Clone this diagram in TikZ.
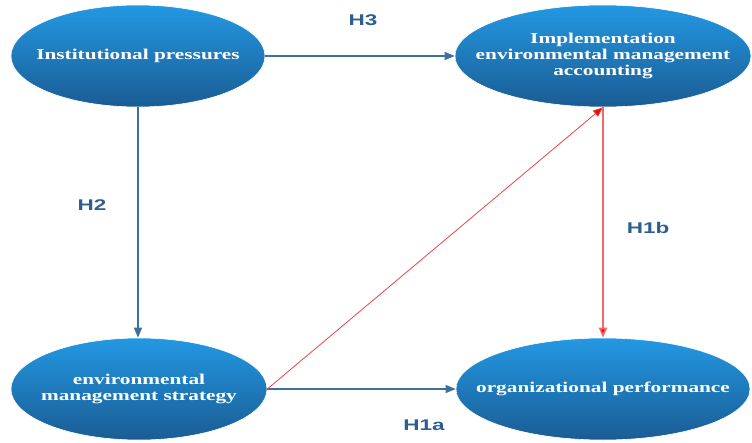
\documentclass[tikz,border=0pt]{standalone}
\usepackage{fontspec}
\setmainfont{Liberation Serif}
\newfontfamily\labelfont{Liberation Sans}
\usetikzlibrary{shapes.geometric,arrows.meta}
\definecolor{topblue}{HTML}{2398E2}
\definecolor{botblue}{HTML}{1A5C94}
\definecolor{arrowblue}{HTML}{3F6F9C}
\definecolor{labelblue}{HTML}{2C5F8D}
\definecolor{redline}{HTML}{E84545}
\tikzset{
  construct/.style={ellipse, inner sep=0pt, top color=topblue, bottom color=botblue,
    draw=white, line width=0.6pt, minimum height=102pt},
  constructtext/.style={inner sep=0pt, xscale=1.42, text=white, align=center,
    font=\fontsize{15}{16.3}\selectfont\bfseries},
  hyplabel/.style={text=labelblue, xscale=1.45, font=\labelfont\fontsize{15.5}{16}\selectfont\bfseries},
  bluearrow/.style={draw=arrowblue, line width=1.1pt, -{Triangle[length=10pt,width=8pt]}},
  redarrow/.style={draw=redline, -{Triangle[length=10pt,width=8pt,fill=red]}, color=redline},
}
\begin{document}
\begin{tikzpicture}[x=1pt,y=-1pt]
\useasboundingbox (0,0) rectangle (752,442);
\node[construct, minimum width=254pt] (ip) at (138,56) {};
\node[construct, minimum width=296pt] (iema) at (603,56) {};
\node[construct, minimum width=256pt] (ems) at (139,389) {};
\node[construct, minimum width=294pt] (op) at (603,389) {};
\node[constructtext] (ipt) at (ip.center) {Institutional pressures};
\node[constructtext] (iemat) at (iema.center) {Implementation\\environmental management\\accounting};
\node[constructtext] (emst) at (ems.center) {environmental\\management strategy};
\node[constructtext] (opt) at (op.center) {organizational performance};
\draw[bluearrow] (ip.east) -- (iema.west);
\draw[bluearrow] (ip.south) -- (ip.south |- ems.north);
\draw[bluearrow] (ems.east) -- (op.west);
\draw[redarrow, line width=0.8pt] (ems.east) -- (iema.south);
\draw[redarrow, line width=1.6pt, draw=redline!80] (iema.south) -- (iema.south |- op.north);
\node[hyplabel] (h3) at (363,20) {H3};
\node[hyplabel] (h2) at (92,205) {H2};
\node[hyplabel] (h1a) at (424,425) {H1a};
\node[hyplabel] (h1b) at (648,228) {H1b};
\end{tikzpicture}
\end{document}
